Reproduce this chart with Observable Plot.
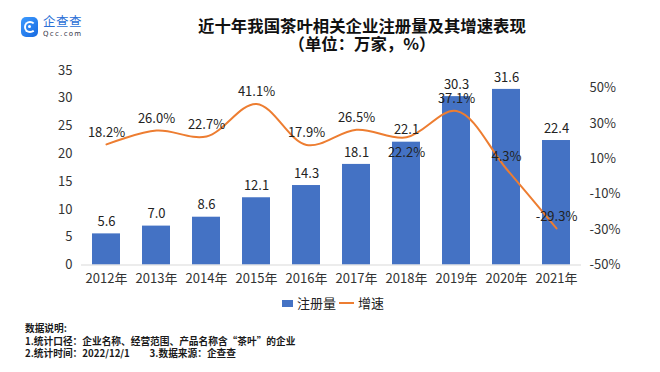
<!DOCTYPE html>
<html>
<head>
<meta charset="utf-8">
<script src="https://cdn.jsdelivr.net/npm/d3@7"></script>
<script src="https://cdn.jsdelivr.net/npm/@observablehq/plot@0.6"></script>
<style>
  html, body { margin: 0; padding: 0; background: #fff; }
  body { width: 660px; height: 372px; position: relative; overflow: hidden;
         font-family: "Noto Sans CJK SC", "Noto Sans", sans-serif; color: #222; }
  #logo { position: absolute; left: 21px; top: 17px; width: 17px; height: 20px;
          border-radius: 5px; background: linear-gradient(135deg, #3d9bff, #1769e0); }
  #logo .ring { position: absolute; left: 3px; top: 4px; width: 8px; height: 8px;
          border: 2px solid #fff; border-radius: 50%; border-right-color: transparent; }
  #logo .dot { position: absolute; left: 7px; top: 8px; width: 3px; height: 3px; background:#fff; border-radius: 50%; }
  #brand { position: absolute; left: 43px; top: 13px; font-size: 12.5px; color: #2a6fd6; line-height: 15px; letter-spacing: 0.5px; }
  #brand2 { position: absolute; left: 43px; top: 30px; font-size: 7px; color: #334; line-height: 8px; letter-spacing: 1.3px; font-family: "DejaVu Sans", sans-serif; }
  .title { position: absolute; left: 0; width: 724px; text-align: center;
           font-weight: bold; font-size: 16.4px; line-height: 17px; color: #111; }
  #t1 { top: 17px; }
  #t2 { top: 35px; }
  #chart { position: absolute; left: 0; top: 60px; }
  #legend { position: absolute; top: 295px; left: 282px; font-size: 13px; line-height: 16px; color: #222; white-space: nowrap; }
  #legend .sw { display: inline-block; width: 11px; height: 7px; background: #4472C4; vertical-align: middle; margin-right: 4px; position: relative; top: -1px; }
  #legend .ln { display: inline-block; width: 15px; height: 2px; background: #ED7D31; vertical-align: middle; margin: 0 4px 0 3px; position: relative; top: -1px; }
  #note { position: absolute; left: 25px; top: 322px; font-size: 9.7px; line-height: 12.5px; font-weight: bold; color: #1a1a1a; white-space: pre; }
</style>
</head>
<body>
<div id="logo"><div class="ring"></div><div class="dot"></div></div>
<div id="brand">企查查</div>
<div id="brand2">Qcc.com</div>
<div class="title" id="t1">近十年我国茶叶相关企业注册量及其增速表现</div>
<div class="title" id="t2">（单位：万家，%）</div>
<div id="chart"></div>
<div id="legend"><span class="sw"></span>注册量<span class="ln"></span>增速</div>
<div id="note">数据说明:
1.统计口径：企业名称、经营范围、产品名称含“茶叶”的企业
2.统计时间：2022/12/1         3.数据来源：企查查</div>
<script>
const years = ["2012年","2013年","2014年","2015年","2016年","2017年","2018年","2019年","2020年","2021年"];
const registrations = [5.6, 7.0, 8.6, 12.1, 14.3, 18.1, 22.1, 30.3, 31.6, 22.4];
const growth = [18.2, 26.0, 22.7, 41.1, 17.9, 26.5, 22.2, 37.1, 4.3, -29.3];
const leftTicks = [0, 5, 10, 15, 20, 25, 30, 35];
const rightTicks = [-50, -30, -10, 10, 30, 50];
const labelBelowYears = ["2018年"];

// secondary axis: -50%..60% shares the primary 0..35 range
const leftMax = 35, rMin = -50, rMax = 60;
const toLeft = p => (p - rMin) / (rMax - rMin) * leftMax;
const fromLeft = v => v / leftMax * (rMax - rMin) + rMin;

const data = years.map((y, i) => ({year: y, reg: registrations[i], g: growth[i], gl: toLeft(growth[i])}));

const font = "Noto Sans CJK SC, Noto Sans, sans-serif";
const chart = Plot.plot({
  width: 660,
  height: 230,
  marginTop: 10,
  marginBottom: 25.5,
  marginLeft: 81,
  marginRight: 79,
  style: {fontFamily: font, fontSize: "13px", color: "#333", background: "transparent"},
  x: {domain: years, paddingInner: 0.45, paddingOuter: 0.225, label: null},
  y: {domain: [0, leftMax], label: null},
  marks: [
    Plot.axisY({ticks: leftTicks, tickSize: 0, tickPadding: 9, label: null, fontSize: 13}),
    Plot.axisY({anchor: "right", ticks: rightTicks.map(toLeft), tickFormat: d => Math.round(fromLeft(d)) + "%",
                tickSize: 0, tickPadding: 8, label: null, fontSize: 13}),
    Plot.axisX({tickSize: 0, tickPadding: 9, label: null, fontSize: 13}),
    Plot.barY(data, {x: "year", y: "reg", fill: "#4472C4"}),
    Plot.ruleY([0], {stroke: "#d9d9d9", strokeWidth: 1}),
    Plot.line(data, {x: "year", y: "gl", stroke: "#ED7D31", strokeWidth: 2, curve: "catmull-rom"}),
    Plot.text(data, {x: "year", y: "reg", text: d => d.reg.toFixed(1), dy: -12, fill: "#222", fontSize: 13}),
    Plot.text(data.filter(d => !labelBelowYears.includes(d.year)), {x: "year", y: "gl", text: d => d.g.toFixed(1) + "%", dy: -12, fill: "#222", fontSize: 13}),
    Plot.text(data.filter(d => labelBelowYears.includes(d.year)), {x: "year", y: "gl", text: d => d.g.toFixed(1) + "%", dy: 15, fill: "#222", fontSize: 13})
  ]
});
document.getElementById("chart").appendChild(chart);
</script>
</body>
</html>
